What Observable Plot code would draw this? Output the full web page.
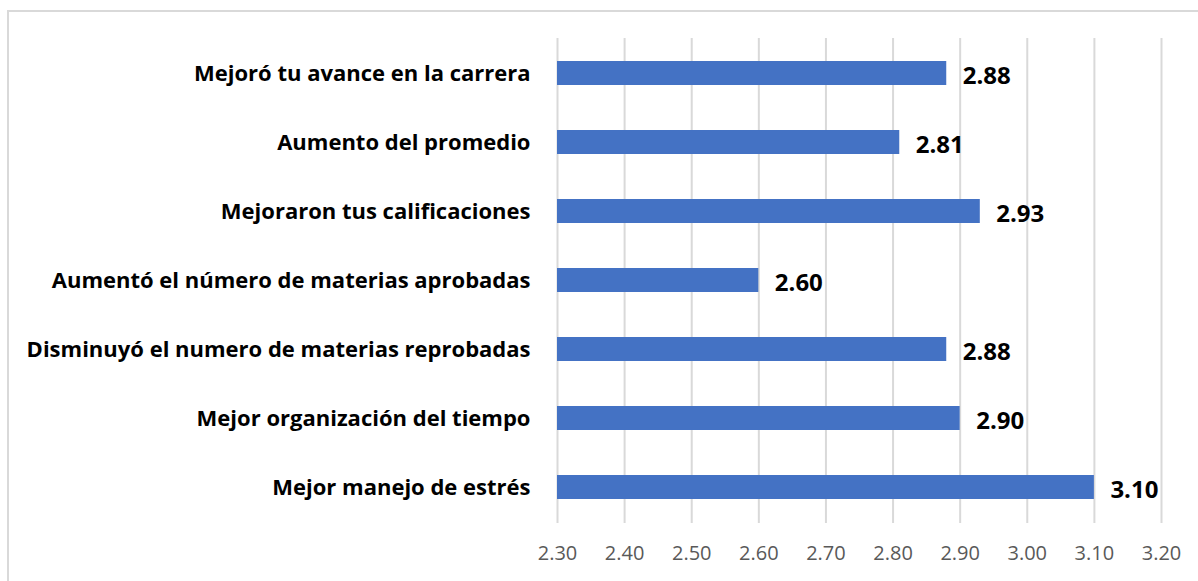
<!DOCTYPE html>
<html>
<head>
<meta charset="utf-8">
<script src="https://cdn.jsdelivr.net/npm/d3@7"></script>
<script src="https://cdn.jsdelivr.net/npm/@observablehq/plot@0.6"></script>
<style>
  html, body { margin: 0; padding: 0; background: #fff; overflow: hidden; }
  #frame {
    position: absolute; left: 7px; top: 10px;
    width: 1300px; height: 700px;
    border: 2px solid #d9d9d9; box-sizing: border-box;
  }
  #chart { position: absolute; left: 0; top: 0; }
</style>
</head>
<body>
<div id="frame"></div>
<div id="chart"></div>
<script>
// Categories, top to bottom
const categories = [
  "Mejoró tu avance en la carrera",
  "Aumento del promedio",
  "Mejoraron tus calificaciones",
  "Aumentó el número de materias aprobadas",
  "Disminuyó el numero de materias reprobadas",
  "Mejor organización del tiempo",
  "Mejor manejo de estrés"
];
// Mean score per category
const values = [2.88, 2.81, 2.93, 2.60, 2.88, 2.90, 3.10];
// Horizontal axis ticks
const tickValues = [2.30, 2.40, 2.50, 2.60, 2.70, 2.80, 2.90, 3.00, 3.10, 3.20];

const rows = categories.map((c, i) => ({category: c, value: values[i]}));
const xMin = tickValues[0];
const xMax = tickValues[tickValues.length - 1];

const chart = Plot.plot({
  width: 1198,
  height: 581,
  marginLeft: 557,
  marginRight: 37,
  marginTop: 38,
  marginBottom: 58,
  style: {fontFamily: "'Open Sans', sans-serif", background: "transparent"},
  x: {domain: [xMin, xMax], label: null},
  y: {domain: categories, paddingInner: 0.65, paddingOuter: 0.325, label: null},
  marks: [
    Plot.ruleX(tickValues, {stroke: "#d9d9d9", strokeWidth: 2}),
    Plot.barX(rows, {x1: xMin, x2: "value", y: "category", fill: "#4472C4"}),
    Plot.text(rows, {
      x: "value", y: "category", text: d => d.value.toFixed(2),
      textAnchor: "start", dx: 16, dy: 3,
      fontSize: 24, fontWeight: "bold", fill: "black"
    }),
    Plot.axisX({
      ticks: tickValues, tickFormat: d => d.toFixed(2),
      tickSize: 0, tickPadding: 22, fontSize: 20, color: "#595959", label: null
    }),
    Plot.axisY({
      tickSize: 0, tickPadding: 27, fontSize: 22, fontWeight: "bold", color: "black", label: null
    })
  ]
});
document.getElementById("chart").appendChild(chart);
</script>
</body>
</html>
